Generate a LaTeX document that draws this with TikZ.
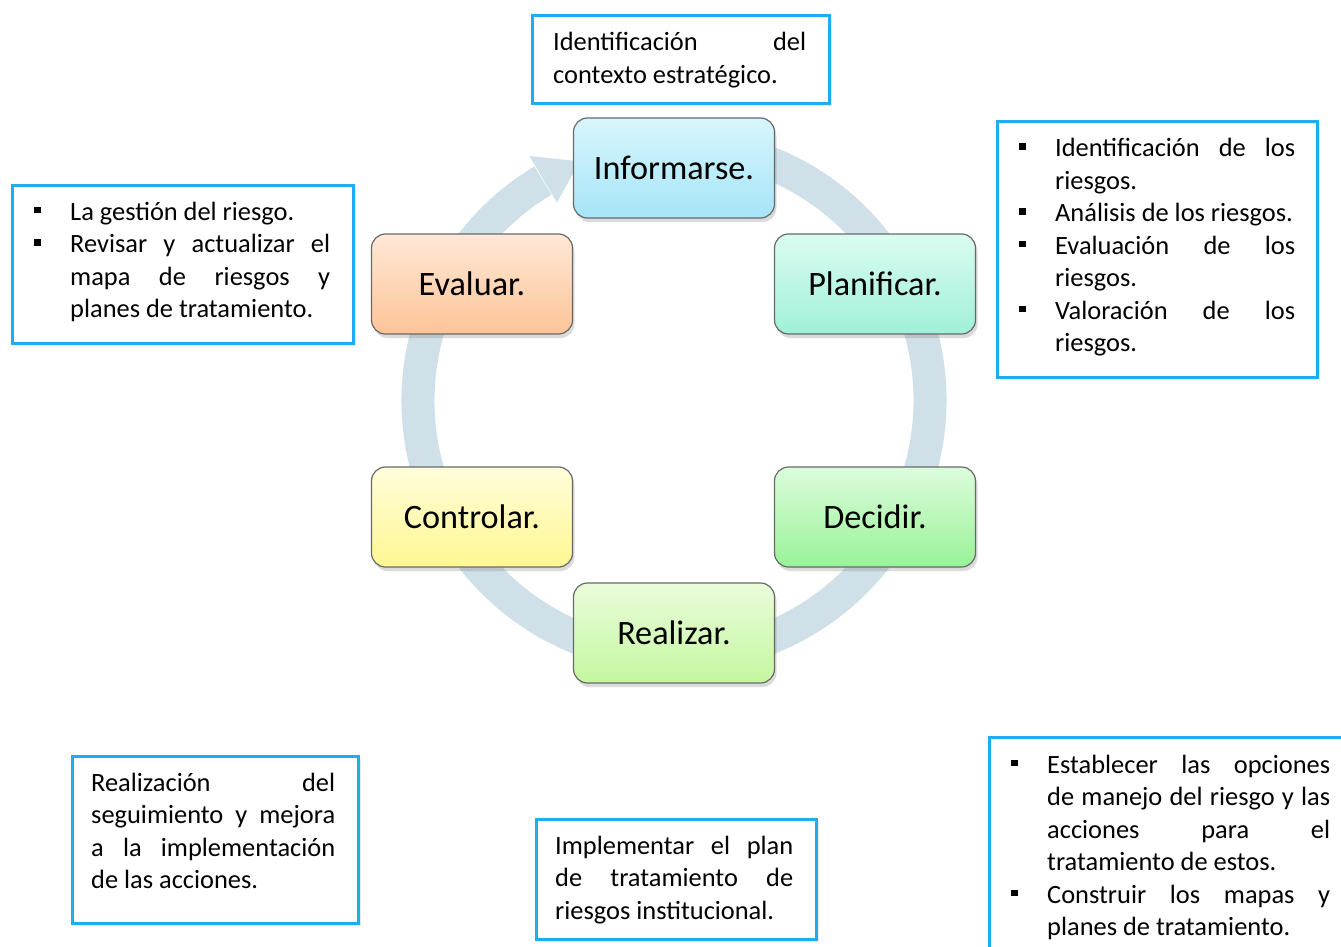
\documentclass[tikz,border=0pt]{standalone}
\usepackage{fontspec}
\setmainfont{Carlito}
\usetikzlibrary{shadows}
\definecolor{bandc}{RGB}{207,224,232}
\definecolor{tboxc}{RGB}{30,174,240}
\definecolor{nodeb}{RGB}{105,105,105}
\definecolor{infT}{RGB}{216,245,252}\definecolor{infB}{RGB}{166,229,248}
\definecolor{plaT}{RGB}{218,252,241}\definecolor{plaB}{RGB}{160,240,216}
\definecolor{decT}{RGB}{220,252,220}\definecolor{decB}{RGB}{152,243,152}
\definecolor{reaT}{RGB}{234,252,218}\definecolor{reaB}{RGB}{196,247,160}
\definecolor{conT}{RGB}{255,253,218}\definecolor{conB}{RGB}{255,247,145}
\definecolor{evaT}{RGB}{254,232,215}\definecolor{evaB}{RGB}{253,196,150}
\newlength\tw
\newcommand\sqb{\hbox to 36pt{\rule[7pt]{6.5pt}{6.5pt}\hss}}
\newcommand\fillsp{\spaceskip=0.226em plus 1fil\relax}
\newcommand\JL[1]{\hbox to\tw{\fillsp #1}}
\newcommand\LL[1]{\hbox to\tw{#1\hss}}
\newcommand\BJ[1]{\hbox to\tw{\sqb\fillsp #1}}
\newcommand\BL[1]{\hbox to\tw{\sqb #1\hss}}
\newcommand\CJ[1]{\hbox to\tw{\hbox to 36pt{\hss}\fillsp #1}}
\newcommand\CL[1]{\hbox to\tw{\hbox to 36pt{\hss}#1\hss}}
\newcommand\tblock[2]{\vtop{\tw=#1\relax\hsize=#1\relax #2}}
\tikzset{
  stage/.style={draw=nodeb, line width=1.2pt, rounded corners=14pt,
    minimum width=201pt, minimum height=100pt, inner sep=0pt,
    font=\fontsize{34.2}{40}\selectfont,
    drop shadow={shadow xshift=2pt, shadow yshift=-4pt, opacity=0.28}},
  tbox/.style={draw=tboxc, line width=2.6pt, fill=white, inner sep=0pt, anchor=north west,
    drop shadow={shadow xshift=3pt, shadow yshift=-3pt, opacity=0.18}},
  ttext/.style={inner sep=0pt, anchor=base west,
    font=\fontsize{26.4}{32.5}\selectfont},
  band/.style={draw=bandc, line width=33pt},
}
\begin{document}
\begin{tikzpicture}[x=1pt, y=-1pt]
\clip (0,0) rectangle (1341,947);
\fill[white] (0,0) rectangle (1341,947);
% cycle arrow (angles mirrored because y points down)
\coordinate (cc) at (674,400.5);
\draw[band] ([shift={(-80:256)}]cc) arc[start angle=-80, end angle=239.2, radius=256];
\fill[bandc] ([shift={(239.4:284)}]cc) -- ([shift={(248.5:257)}]cc) -- ([shift={(239.4:230)}]cc) -- cycle;
% stages
\node[stage, top color=infT, bottom color=infB] (inf) at (674,168) {Informarse.};
\node[stage, top color=plaT, bottom color=plaB] (pla) at (875,284) {Planificar.};
\node[stage, top color=decT, bottom color=decB] (dec) at (875,517) {Decidir.};
\node[stage, top color=reaT, bottom color=reaB] (rea) at (674,633) {Realizar.};
\node[stage, top color=conT, bottom color=conB] (con) at (472,517) {Controlar.};
\node[stage, top color=evaT, bottom color=evaB] (eva) at (472,284) {Evaluar.};
% text boxes
\node[tbox, minimum width=297pt, minimum height=88pt] (b1) at (531,14) {};
\node[ttext] (t1) at (553,51) {\tblock{253pt}{\JL{Identificación del}\LL{contexto estratégico.}}};
\node[tbox, minimum width=320pt, minimum height=256pt] (b2) at (996,120) {};
\node[ttext] (t2) at (1019,157) {\tblock{276pt}{\BJ{Identificación de los}\CL{riesgos.}\BL{Análisis de los riesgos.}\BJ{Evaluación de los}\CL{riesgos.}\BJ{Valoración de los}\CL{riesgos.}}};
\node[tbox, minimum width=341pt, minimum height=158pt] (b3) at (11,184) {};
\node[ttext] (t3) at (34,220) {\tblock{296pt}{\BL{La gestión del riesgo.}\BJ{Revisar y actualizar el}\CJ{mapa de riesgos y}\CL{planes de tratamiento.}}};
\node[tbox, minimum width=286pt, minimum height=167pt] (b4) at (71,755) {};
\node[ttext] (t4) at (91,791) {\tblock{244pt}{\JL{Realización del}\JL{seguimiento y mejora}\JL{a la implementación}\LL{de las acciones.}}};
\node[tbox, minimum width=280pt, minimum height=120pt] (b5) at (535,818) {};
\node[ttext] (t5) at (555,854) {\tblock{238pt}{\JL{Implementar el plan}\JL{de tratamiento de}\LL{riesgos institucional.}}};
\node[tbox, minimum width=372pt, minimum height=234pt] (b6) at (988,736) {};
\node[ttext] (t6) at (1011,773) {\tblock{319pt}{\BJ{Establecer las opciones}\CJ{de manejo del riesgo y las}\CJ{acciones para el}\CL{tratamiento de estos.}\BJ{Construir los mapas y}\CL{planes de tratamiento.}}};
\end{tikzpicture}
\end{document}
